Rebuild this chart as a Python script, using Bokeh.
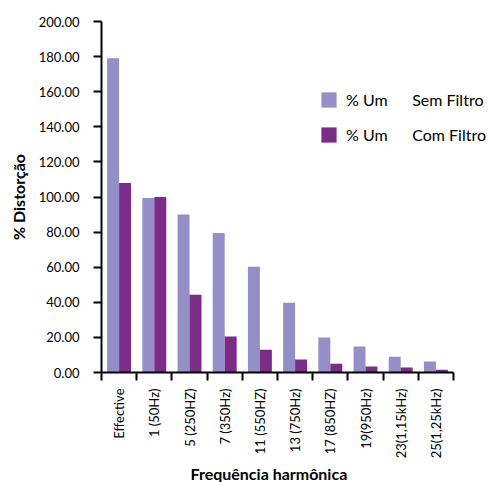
import numpy as np
from bokeh.plotting import figure
from bokeh.models import (ColumnDataSource, FixedTicker, PrintfTickFormatter,
                          Range1d, Legend, LegendItem, Title)
from bokeh.embed import file_html
from bokeh.resources import INLINE

categories = ["Effective", "1 (50Hz)", "5 (250HZ)", "7 (350Hz)", "11 (550HZ)",
              "13 (750Hz)", "17 (850HZ)", "19(950Hz)", "23(1,15kHz)", "25(1,25kHz)"]
sem_filtro = [179.0, 99.5, 90.0, 79.5, 60.2, 39.8, 19.9, 14.8, 9.0, 6.3]
com_filtro = [108.0, 100.0, 44.3, 20.5, 13.0, 7.4, 5.0, 3.4, 2.8, 1.6]
y_ticks = [0, 20, 40, 60, 80, 100, 120, 140, 160, 180, 200]

SEM_COLOR = "#948FC7"
COM_COLOR = "#7B2C87"
FONT = "Lato"

n = len(categories)
idx = np.arange(n)
bw = 0.34
src = ColumnDataSource(dict(
    xs=idx + 0.5 - bw / 2, xc=idx + 0.5 + bw / 2,
    sem=sem_filtro, com=com_filtro))

p = figure(width=489, height=482, output_backend="svg", toolbar_location=None,
           x_range=Range1d(0, n * 388 / 352), y_range=Range1d(0, 200),
           min_border_left=101, min_border_right=0, min_border_top=21,
           min_border_bottom=109)
p.outline_line_color = None
p.xgrid.visible = False
p.ygrid.visible = False

r1 = p.vbar(x="xs", top="sem", width=bw, source=src, fill_color=SEM_COLOR,
            line_color=None)
r2 = p.vbar(x="xc", top="com", width=bw, source=src, fill_color=COM_COLOR,
            line_color=None)

# x axis: labels at category centers, ticks at category boundaries
xa = p.xaxis[0]
xa.bounds = (0, n)
xa.ticker = FixedTicker(ticks=list(idx + 0.5), minor_ticks=list(range(n + 1)))
xa.major_label_overrides = {float(i + 0.5): c for i, c in enumerate(categories)}
xa.major_label_orientation = np.pi / 2
xa.major_tick_out = 0
xa.major_tick_in = 0
xa.minor_tick_out = 8
xa.minor_tick_in = 0
xa.minor_tick_line_width = 2
xa.minor_tick_line_color = "black"
xa.axis_line_width = 2
xa.axis_line_color = "black"
xa.major_label_text_font = FONT
xa.major_label_text_font_size = "13px"
xa.major_label_text_color = "black"
xa.major_label_standoff = 8

x_title = Title(text="Frequência harmônica", align="left", offset=89,
                text_font=FONT, text_font_style="bold", text_font_size="16px",
                text_color="black", standoff=0)
p.add_layout(x_title, "below")

ya = p.yaxis[0]
ya.ticker = FixedTicker(ticks=y_ticks, minor_ticks=[])
ya.formatter = PrintfTickFormatter(format="%.2f")
ya.major_tick_out = 8
ya.major_tick_in = 0
ya.major_tick_line_width = 2
ya.major_tick_line_color = "black"
ya.axis_line_width = 2
ya.axis_line_color = "black"
ya.major_label_text_font = FONT
ya.major_label_text_font_size = "13px"
ya.major_label_text_color = "black"
ya.major_label_standoff = 14
ya.axis_label = "% Distorção"
ya.axis_label_text_font = FONT
ya.axis_label_text_font_style = "bold"
ya.axis_label_text_font_size = "16px"
ya.axis_label_text_color = "black"
ya.axis_label_standoff = 8

legend = Legend(items=[
    LegendItem(label="% Um\u00a0\u00a0\u00a0\u00a0\u00a0\u00a0Sem Filtro", renderers=[r1]),
    LegendItem(label="% Um\u00a0\u00a0\u00a0\u00a0\u00a0\u00a0Com Filtro", renderers=[r2]),
], location=(218, 228))
legend.border_line_alpha = 0
legend.background_fill_alpha = 0
legend.padding = 0
legend.margin = 0
legend.spacing = 16
legend.glyph_width = 19
legend.glyph_height = 19
legend.label_height = 19
legend.label_standoff = 8
legend.label_text_font = FONT
legend.label_text_font_size = "16px"
legend.label_text_color = "black"
p.add_layout(legend, "center")

open("out.html", "w").write(file_html(p, INLINE))
